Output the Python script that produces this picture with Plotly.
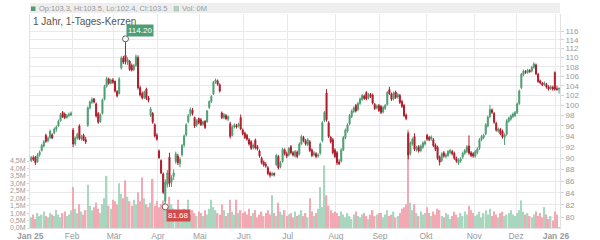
import numpy as np
import pandas as pd
import plotly.graph_objects as go

# ---------------- data ----------------
holidays = ["2025-04-18", "2025-04-21", "2025-05-01", "2025-12-24",
            "2025-12-25", "2025-12-26", "2025-12-31", "2026-01-01"]

open_ = [
    # Jan
    89.6, 90.1, 90.2, 89.4, 90.6, 91.4, 92.2, 94.2, 93.2, 93.8, 94.3, 94.6, 95.4, 96.0, 97.0, 98.6, 98.3, 97.6, 98.0, 98.1,
    # Feb
    95.2, 92.6, 93.7, 96.0, 93.5, 94.2, 93.4, 96.1, 99.5, 100.6, 101.3, 100.3, 98.4, 96.8, 98.4, 101.2, 103.9, 105.4, 104.5, 105.2,
    # Mar
    104.9, 102.8, 102.4, 107.8, 109.9, 110.5, 109.0, 109.2, 108.3, 107.4, 108.3, 110.0, 103.6, 102.4, 101.6, 103.3, 101.5, 98.0, 98.4, 96.2, 94.2,
    # Apr
    91.3, 89.6, 87.2, 82.6, 85.4, 90.2, 85.8, 86.8, 89.4, 90.4, 89.0, 90.6, 92.4, 94.3, 96.8, 98.2, 99.1, 97.6, 96.2, 97.4,
    # May
    97.2, 96.3, 96.9, 96.8, 99.6, 100.8, 102.3, 104.8, 105.0, 104.2, 98.5, 97.6, 98.0, 97.3, 96.4, 94.2, 95.8, 96.1, 96.0, 97.6, 95.2,
    # Jun
    94.6, 94.2, 93.4, 93.0, 91.9, 93.3, 92.1, 91.3, 90.0, 89.3, 88.9, 88.3, 87.4, 87.0, 87.3, 88.9, 90.3, 88.5, 89.4, 91.5, 90.8,
    # Jul
    90.6, 92.1, 91.0, 90.4, 91.1, 90.8, 92.6, 93.8, 93.2, 92.5, 93.0, 91.5, 90.6, 90.8, 90.4, 90.9, 93.2, 97.0, 102.5, 96.6, 93.8, 93.4, 91.5,
    # Aug
    91.0, 89.3, 89.5, 91.5, 93.8, 95.0, 96.4, 97.8, 98.8, 100.0, 99.2, 100.4, 101.2, 101.9, 102.6, 101.5, 102.2, 102.1, 100.2, 99.5, 100.0,
    # Sep
    99.8, 98.7, 99.4, 100.2, 103.2, 102.3, 101.3, 102.7, 101.7, 102.0, 100.8, 100.0, 98.1, 94.5, 90.8, 92.6, 94.0, 91.5, 92.1, 91.4, 92.0, 92.6,
    # Oct
    94.2, 93.8, 93.5, 93.4, 92.4, 92.0, 90.2, 89.6, 91.0, 90.3, 90.5, 91.0, 91.2, 90.9, 90.0, 89.1, 89.5, 90.2, 90.9, 91.2, 92.2, 91.0, 90.8,
    # Nov
    90.4, 91.0, 91.8, 93.4, 93.8, 94.5, 96.0, 97.8, 99.1, 98.4, 96.5, 95.0, 95.3, 95.0, 93.8, 94.4, 96.9, 97.3, 97.8, 98.0,
    # Dec
    98.6, 100.4, 103.6, 106.3, 107.0, 106.8, 107.2, 107.1, 107.9, 108.4, 106.4, 105.0, 104.5, 104.2, 104.3, 103.8, 103.4, 103.7, 106.8,
    # Jan 26
    103.4, 103.3,
]

high = [
    90.4, 90.5, 90.4, 90.9, 91.4, 92.6, 93.3, 94.5, 94.0, 95.3, 94.6, 95.7, 96.1, 97.2, 98.5, 98.9, 98.6, 98.3, 98.6, 98.8,
    95.6, 94.0, 94.7, 96.3, 94.3, 94.5, 93.9, 99.8, 101.0, 101.6, 101.5, 100.6, 98.7, 98.4, 101.4, 104.2, 105.9, 105.7, 105.5, 105.6,
    105.1, 103.1, 105.8, 110.3, 110.4, 114.2, 110.1, 109.5, 108.7, 108.6, 110.7, 110.5, 104.0, 102.8, 103.0, 103.6, 101.9, 99.7, 98.7, 96.5, 94.6,
    91.6, 89.8, 87.5, 86.3, 87.9, 91.0, 87.0, 88.0, 91.2, 90.8, 90.2, 92.6, 94.4, 96.5, 98.3, 99.6, 99.5, 97.8, 97.3, 97.6,
    97.5, 97.0, 97.1, 99.1, 101.0, 102.1, 105.0, 105.5, 105.3, 104.5, 98.8, 98.5, 98.3, 98.0, 96.8, 96.1, 96.5, 96.4, 96.6, 98.2, 95.5,
    94.9, 94.5, 93.7, 93.3, 92.7, 93.6, 92.4, 91.6, 90.3, 89.6, 89.3, 88.6, 87.7, 87.6, 87.5, 90.8, 90.6, 89.5, 91.9, 91.8, 91.2,
    92.0, 92.4, 91.3, 91.5, 91.4, 92.9, 94.3, 94.1, 93.5, 93.7, 93.3, 91.8, 91.3, 91.1, 90.9, 92.9, 96.9, 98.9, 103.3, 96.9, 94.1, 93.7, 91.8,
    91.3, 89.8, 91.8, 94.1, 95.5, 96.5, 98.3, 99.2, 99.8, 100.3, 100.7, 101.6, 102.3, 102.2, 102.9, 102.5, 102.5, 102.4, 100.5, 100.2, 100.3,
    100.1, 99.9, 100.3, 102.9, 103.8, 102.6, 102.8, 103.0, 102.5, 102.3, 101.1, 100.3, 98.4, 94.8, 93.1, 93.8, 94.6, 92.3, 92.4, 92.5, 93.1, 93.3,
    94.5, 94.1, 94.2, 93.7, 92.7, 92.3, 90.5, 91.1, 91.3, 90.9, 91.5, 91.7, 91.5, 91.2, 90.3, 90.0, 90.2, 91.2, 91.7, 92.4, 94.2, 91.3, 91.1,
    91.5, 92.0, 93.7, 94.3, 94.5, 96.5, 98.0, 100.1, 99.4, 98.7, 96.8, 95.7, 95.6, 95.3, 94.6, 97.3, 97.8, 98.2, 98.6, 98.9,
    100.6, 103.2, 106.7, 107.4, 107.3, 107.6, 107.5, 108.2, 109.0, 108.7, 106.7, 105.3, 104.8, 104.9, 104.6, 104.1, 104.1, 104.0, 107.0,
    104.0, 103.5,
]

low = [
    89.3, 89.5, 88.8, 89.2, 90.3, 91.2, 92.0, 92.8, 92.9, 93.5, 93.5, 94.4, 94.9, 95.8, 96.8, 97.5, 97.3, 97.4, 97.7, 97.9,
    92.0, 92.3, 93.4, 93.3, 93.2, 93.1, 92.6, 95.8, 99.2, 100.3, 100.4, 97.6, 96.4, 96.6, 98.2, 101.0, 103.6, 104.2, 104.3, 104.4,
    102.6, 101.6, 102.2, 107.4, 108.6, 108.5, 108.4, 107.1, 107.0, 107.1, 108.0, 103.2, 101.8, 101.2, 101.3, 101.1, 100.6, 97.7, 96.4, 93.8, 93.2,
    89.9, 87.2, 83.8, 81.68, 84.9, 85.0, 85.0, 86.2, 89.0, 88.8, 88.4, 90.3, 92.0, 94.0, 96.5, 97.8, 98.0, 95.6, 95.8, 96.3,
    96.0, 96.0, 95.4, 96.6, 99.3, 100.5, 102.1, 104.4, 104.0, 102.6, 97.3, 97.3, 97.1, 96.9, 93.6, 94.0, 95.5, 95.5, 95.7, 95.2, 94.2,
    93.5, 93.2, 92.3, 91.5, 91.6, 91.6, 91.4, 90.1, 88.9, 88.5, 88.3, 87.0, 86.6, 86.8, 86.8, 88.6, 88.0, 88.2, 89.2, 90.5, 90.0,
    90.3, 90.7, 90.3, 90.1, 90.0, 90.5, 92.4, 92.9, 92.3, 92.2, 91.1, 90.2, 90.3, 90.0, 90.1, 90.6, 92.9, 96.7, 96.8, 93.7, 92.7, 90.7, 90.0,
    88.8, 88.8, 89.2, 91.3, 93.5, 94.7, 96.1, 97.5, 98.5, 98.6, 98.9, 100.1, 100.9, 101.1, 101.0, 101.2, 101.5, 100.2, 99.1, 99.2, 98.7,
    98.3, 98.4, 99.1, 99.9, 102.1, 100.9, 101.0, 101.3, 101.4, 100.3, 99.5, 97.7, 97.1, 89.8, 90.5, 92.3, 91.3, 91.2, 91.0, 91.1, 91.7, 92.3,
    93.2, 93.1, 93.2, 92.0, 91.3, 89.7, 88.7, 89.3, 90.1, 90.0, 90.2, 90.7, 90.5, 89.7, 89.2, 88.8, 89.2, 89.9, 90.6, 90.9, 90.6, 90.2, 90.1,
    90.1, 90.7, 91.5, 93.1, 93.5, 94.2, 95.7, 97.5, 98.3, 96.4, 94.9, 94.7, 94.2, 93.6, 92.4, 94.1, 96.6, 97.0, 97.5, 97.7,
    98.3, 100.1, 103.3, 106.0, 106.5, 106.5, 106.7, 106.8, 107.6, 106.2, 104.6, 104.3, 103.9, 103.9, 103.4, 103.0, 103.1, 103.0, 103.0,
    103.0, 102.4,
]

close = [
    90.1, 89.8, 89.2, 90.6, 91.1, 92.3, 93.0, 93.1, 93.7, 95.0, 93.7, 95.4, 95.8, 96.9, 98.2, 97.7, 97.6, 98.0, 98.2, 98.5,
    92.6, 93.7, 94.4, 93.6, 94.0, 93.3, 93.0, 99.5, 100.7, 101.2, 100.7, 97.9, 96.7, 98.2, 101.1, 103.9, 105.5, 104.5, 105.2, 104.7,
    102.9, 101.9, 105.4, 109.9, 109.0, 109.1, 109.6, 107.4, 107.3, 108.3, 110.2, 103.6, 102.1, 101.5, 102.7, 101.4, 101.0, 99.3, 96.7, 94.1, 93.5,
    90.1, 87.4, 84.1, 85.8, 87.4, 85.6, 86.6, 87.4, 90.8, 89.2, 89.8, 92.3, 94.1, 96.2, 98.0, 99.2, 98.4, 96.0, 97.0, 96.6,
    96.2, 96.8, 95.7, 98.9, 100.8, 101.8, 104.8, 105.2, 104.3, 102.9, 97.6, 98.2, 97.4, 97.8, 94.0, 95.8, 96.2, 95.8, 96.3, 95.4, 94.5,
    93.8, 93.5, 92.6, 91.8, 92.4, 91.9, 91.7, 90.4, 89.2, 88.8, 88.6, 87.3, 87.0, 87.3, 87.1, 90.5, 88.3, 89.2, 91.6, 90.8, 90.4,
    91.8, 91.0, 90.6, 91.2, 90.3, 92.6, 94.0, 93.2, 92.6, 93.4, 91.4, 90.5, 91.0, 90.3, 90.6, 92.6, 96.6, 98.6, 97.2, 94.0, 93.0, 91.0, 90.3,
    89.2, 89.0, 91.5, 93.8, 95.2, 96.2, 98.0, 98.9, 99.5, 98.9, 100.4, 101.3, 102.0, 101.4, 101.3, 102.2, 101.8, 100.5, 99.4, 99.9, 99.0,
    98.6, 99.6, 100.0, 102.6, 102.4, 101.2, 102.5, 101.6, 102.2, 100.6, 99.8, 98.0, 97.4, 90.6, 92.8, 93.5, 91.6, 92.0, 91.3, 92.2, 92.8, 93.0,
    93.5, 93.4, 93.9, 92.3, 91.6, 90.0, 89.3, 90.8, 90.4, 90.6, 91.2, 91.4, 90.8, 90.0, 89.5, 89.7, 89.9, 90.9, 91.4, 92.1, 90.9, 90.5, 90.4,
    91.2, 91.7, 93.4, 94.0, 94.2, 96.2, 97.7, 99.2, 98.6, 96.7, 95.2, 95.4, 94.5, 93.9, 94.3, 97.0, 97.5, 97.9, 98.3, 98.6,
    100.3, 102.9, 106.4, 107.1, 106.8, 107.3, 107.0, 107.9, 108.6, 106.5, 104.9, 104.6, 104.2, 104.6, 103.7, 103.3, 103.8, 103.3, 103.3,
    103.2, 103.5,
]

volume_m = [
    0.7, 0.9, 0.6, 1.0, 0.8, 0.9, 1.1, 0.8, 0.7, 1.0, 0.9, 0.8, 1.2, 0.9, 0.7, 1.0, 1.1, 0.8, 0.9, 1.2,
    2.75, 1.3, 1.0, 1.6, 1.1, 0.9, 1.2, 2.9, 1.5, 1.2, 1.4, 1.7, 1.3, 1.0, 1.6, 2.0, 3.5, 1.5, 1.3, 1.9,
    1.8, 1.6, 3.0, 2.3, 2.0, 3.2, 2.1, 1.8, 1.5, 1.9, 1.6, 2.4, 1.8, 3.4, 2.0, 1.6, 1.4, 1.7, 3.3, 1.5, 1.8,
    1.4, 1.6, 1.85, 1.7, 1.5, 2.1, 1.6, 1.3, 1.1, 1.9, 1.2, 1.0, 1.3, 1.1, 1.9, 0.9, 1.2, 1.0, 0.8, 1.1,
    1.0, 0.8, 1.2, 0.9, 1.3, 1.9, 1.4, 1.2, 1.0, 0.9, 1.6, 1.2, 0.8, 1.0, 1.9, 1.1, 0.9, 1.9, 1.0, 1.2, 1.0,
    1.1, 0.9, 1.3, 0.8, 1.0, 1.2, 0.7, 0.9, 1.1, 0.8, 1.0, 1.2, 0.9, 2.2, 1.0, 0.8, 1.7, 1.1, 0.9, 1.2, 0.8,
    0.9, 1.0, 0.7, 1.1, 0.8, 0.9, 1.2, 0.8, 1.0, 0.7, 2.0, 1.1, 0.8, 1.0, 1.3, 2.75, 1.4, 4.2, 2.2, 1.5, 1.2, 1.0, 1.1,
    1.0, 0.8, 1.1, 0.9, 0.7, 1.0, 0.8, 0.6, 0.9, 1.1, 0.8, 0.7, 0.9, 1.0, 0.8, 0.6, 0.9, 1.2, 0.8, 0.9, 1.0,
    1.0, 0.7, 0.9, 1.2, 0.8, 0.9, 1.1, 0.7, 0.8, 1.0, 1.3, 1.4, 1.6, 6.6, 1.7, 1.2, 1.6, 1.0, 0.8, 1.1, 0.9, 1.0,
    1.4, 1.0, 0.8, 1.1, 0.9, 1.3, 1.2, 0.8, 0.7, 1.0, 0.9, 0.6, 0.8, 1.1, 0.9, 0.7, 1.0, 0.8, 1.1, 0.9, 1.5, 1.2, 1.0,
    0.8, 0.9, 1.1, 0.7, 1.0, 1.2, 0.9, 1.3, 0.8, 1.1, 0.9, 0.7, 1.0, 1.1, 0.8, 0.9, 1.0, 1.2, 0.9, 0.8,
    1.0, 1.2, 1.85, 1.1, 0.9, 1.0, 0.8, 0.7, 0.9, 1.1, 0.8, 1.0, 0.7, 1.4, 0.9, 0.6, 0.8, 0.5, 1.1,
    0.9, 0.02,
]

month_ticks = ["2025-01-06", "2025-02-03", "2025-03-03", "2025-04-01", "2025-05-02", "2025-06-02",
               "2025-07-01", "2025-08-01", "2025-09-01", "2025-10-01", "2025-11-03", "2025-12-01", "2026-01-02"]
month_labels = ["<b>Jan 25</b>", "Feb", "Mär", "Apr", "Mai", "Jun", "Jul", "Aug", "Sep", "Okt", "Nov", "Dez", "<b>Jan 26</b>"]

price_ticks = list(range(80, 117, 2))
vol_ticks = [0, 0.5, 1.0, 1.5, 2.0, 2.5, 3.0, 3.5, 4.0, 4.5]

# ---------------- build ----------------
days = pd.bdate_range("2025-01-06", "2026-01-05")
days = days[~days.isin(pd.to_datetime(holidays))]
assert len(days) == len(open_) == len(high) == len(low) == len(close) == len(volume_m), (
    len(days), len(open_), len(high), len(low), len(close), len(volume_m))
x = days + pd.Timedelta(hours=12)

o = np.array(open_); h = np.array(high); l = np.array(low); c = np.array(close)
vol = np.array(volume_m)

UP = "#4e9e73"
DOWN = "#b01b2c"
VUP = "#a9d6bf"
VDOWN = "#f2a9b4"
GRID = "#e9e9e9"
FONT = "Liberation Sans, Arial, sans-serif"

vcolors = [VUP if cc >= oo else VDOWN for oo, cc in zip(o, c)]

fig = go.Figure()
fig.add_trace(go.Bar(x=x, y=vol * 1e6, marker=dict(color=vcolors, line=dict(width=0)),
                     xaxis="x", yaxis="y", hoverinfo="skip"))
fig.add_trace(go.Candlestick(
    x=x, open=o, high=h, low=l, close=c, xaxis="x", yaxis="y2",
    increasing=dict(line=dict(color=UP, width=1), fillcolor=UP),
    decreasing=dict(line=dict(color=DOWN, width=1), fillcolor=DOWN),
    whiskerwidth=0,
))

i_hi = int(np.argmax(h))
i_lo = int(np.argmin(l))
fig.add_trace(go.Scatter(
    x=[x[i_hi], x[i_lo]], y=[h[i_hi], l[i_lo]], mode="markers", xaxis="x", yaxis="y2",
    marker=dict(symbol="circle", size=6, color="white", line=dict(color="#666", width=1)),
    hoverinfo="skip",
))

W, H = 600, 240
ML, MR, MT, MB = 30, 40, 14, 12
pw, ph = W - ML - MR, H - MT - MB

def px_x(p):
    return (p - ML) / pw

def px_y(p):
    return (H - MB - p) / ph

vol_top = 4.5e6 * ph / (227.7 - 160.7)

fig.update_layout(
    width=W, height=H, margin=dict(l=ML, r=MR, t=MT, b=MB, autoexpand=False),
    paper_bgcolor="white", plot_bgcolor="white",
    showlegend=False, bargap=0.3,
    font=dict(family=FONT, size=8, color="#999"),
    xaxis=dict(
        type="date", automargin=False,
        range=["2025-01-03 22:00", "2026-01-05 23:00"],
        rangebreaks=[dict(bounds=["sat", "mon"]), dict(values=holidays)],
        rangeslider=dict(visible=False),
        tickmode="array", tickvals=month_ticks, ticktext=month_labels,
        showgrid=True, gridcolor=GRID, gridwidth=1,
        ticks="outside", ticklen=0, tickcolor="white",
        showline=True, linecolor="#e2e2e2",
        tickfont=dict(size=8.5, color="#999"),
        zeroline=False,
    ),
    yaxis=dict(
        side="left", range=[0, vol_top], automargin=False,
        tickmode="array", tickvals=[v * 1e6 for v in vol_ticks],
        ticktext=[f"{v:.1f}M".replace(".", ",") for v in vol_ticks],
        showgrid=False, zeroline=False,
        ticks="outside", ticklen=2, tickcolor="#d5d5d5",
        showline=True, linecolor="#e2e2e2",
        tickfont=dict(size=7, color="#999"),
    ),
    yaxis2=dict(
        overlaying="y", side="right", type="log", automargin=False,
        range=[np.log10(78.31), np.log10(120.0)],
        tickmode="array", tickvals=price_ticks, ticktext=[str(t) for t in price_ticks],
        showgrid=True, gridcolor=GRID, gridwidth=1, zeroline=False,
        ticks="outside", ticklen=3, tickcolor="#d5d5d5",
        showline=True, linecolor="#e2e2e2",
        tickfont=dict(size=8, color="#999"),
    ),
)

# header band
fig.add_shape(type="rect", xref="paper", yref="paper", x0=0, x1=1,
              y0=px_y(13), y1=px_y(3), fillcolor="#eeeeee", line=dict(width=0), layer="below")
fig.add_shape(type="rect", xref="paper", yref="paper", x0=px_x(31), x1=px_x(35.5),
              y0=px_y(11), y1=px_y(6.5), fillcolor=UP, line=dict(width=0))
fig.add_shape(type="rect", xref="paper", yref="paper", x0=px_x(174), x1=px_x(178.5),
              y0=px_y(11), y1=px_y(6.5), fillcolor="#b9d3c5", line=dict(color="#8fb09f", width=0.5))

last = -1
fig.add_annotation(xref="paper", yref="paper", x=px_x(37), y=px_y(8.7), xanchor="left", yanchor="middle",
                   text=f"Op:{o[last]:.1f}, Hi:{h[last]:.1f}, Lo:{l[last]:.1f}, Cl:{c[last]:.1f}",
                   showarrow=False, font=dict(size=7.5, color="#999"))
fig.add_annotation(xref="paper", yref="paper", x=px_x(180), y=px_y(8.7), xanchor="left", yanchor="middle",
                   text=f"Vol: {vol[last]:.0f}M", showarrow=False, font=dict(size=7.5, color="#999"))
fig.add_annotation(xref="paper", yref="paper", x=px_x(31), y=px_y(21.5), xanchor="left", yanchor="middle",
                   text="1 Jahr, 1-Tages-Kerzen", showarrow=False, font=dict(size=10, color="#555"))

# high / low labels
fig.add_annotation(x=x[i_hi], y=np.log10(h[i_hi]), xref="x", yref="y2", xanchor="left", yanchor="bottom",
                   xshift=1, yshift=2, text=f"{h[i_hi]:.2f}", showarrow=False,
                   bgcolor="#4e9e73", borderpad=1, font=dict(size=8, color="white"))
fig.add_annotation(x=x[i_lo], y=np.log10(l[i_lo]), xref="x", yref="y2", xanchor="left", yanchor="top",
                   xshift=1, yshift=-2, text=f"{l[i_lo]:.2f}", showarrow=False,
                   bgcolor="#d44b4b", borderpad=1, font=dict(size=8, color="white"))

fig.write_html("out.html")
